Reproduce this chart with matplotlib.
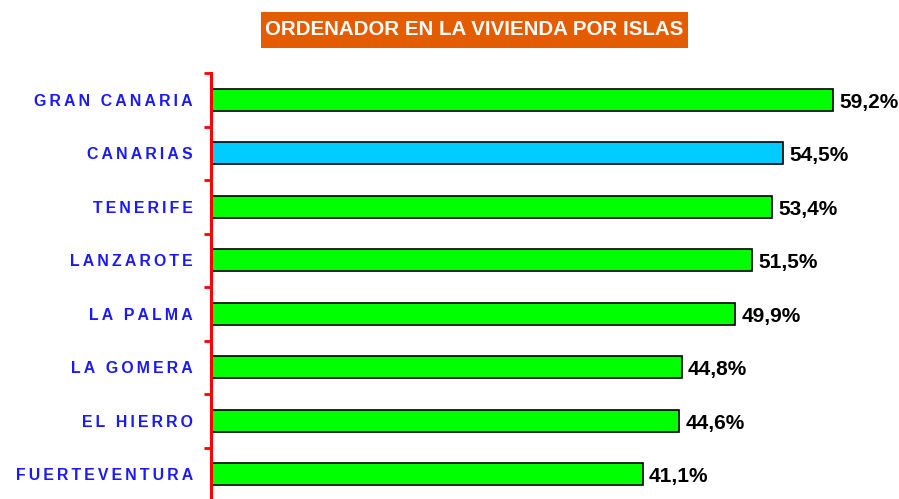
import matplotlib.pyplot as plt
from matplotlib.patches import Rectangle

# data
islands = ['GRAN CANARIA', 'CANARIAS', 'TENERIFE', 'LANZAROTE', 'LA PALMA',
           'LA GOMERA', 'EL HIERRO', 'FUERTEVENTURA']
values = [59.2, 54.5, 53.4, 51.5, 49.9, 44.8, 44.6, 41.1]
colors = ['#00ff00', '#00ccff', '#00ff00', '#00ff00', '#00ff00',
          '#00ff00', '#00ff00', '#00ff00']
title = 'ORDENADOR EN LA VIVIENDA POR ISLAS'

plt.rcParams['font.family'] = ['Liberation Sans', 'DejaVu Sans']

fig = plt.figure(figsize=(8.99, 4.99), dpi=100)
ax = fig.add_axes([211 / 899, -2 / 499, 1 - 211 / 899, 428 / 499])

pos = list(range(len(islands)))
ax.barh(pos, values, height=0.41, color=colors, edgecolor='black', linewidth=1.2)
ax.set_xlim(0, 65.5)
ax.set_ylim(len(islands) - 0.5, -0.5)

# value labels (nudged down a little to sit level with the bar)
for p, v in zip(pos, values):
    ax.text(v + 0.6, p + 0.05, f'{v:.1f}%'.replace('.', ','), va='center', ha='left',
            fontsize=15, fontweight='bold', color='black')

# letter-spaced blue category labels
spaced = ['\u2009'.join(s) for s in islands]
ax.set_yticks(pos)
ax.set_yticklabels(spaced, fontsize=11.4, fontweight='bold', color='#1a1af5')
ax.tick_params(axis='y', which='major', length=0, pad=13)
ax.set_yticks([p - 0.5 for p in range(len(islands) + 1)], minor=True)
ax.tick_params(axis='y', which='minor', length=5, width=2, color='red', direction='out')
ax.set_xticks([])

for s in ['top', 'right', 'bottom']:
    ax.spines[s].set_visible(False)
ax.spines['left'].set_color('red')
ax.spines['left'].set_linewidth(2.2)

# title in orange box
fig.patches.append(Rectangle((261 / 899, 1 - 48 / 499), 427 / 899, 36 / 499,
                             transform=fig.transFigure, facecolor='#e35c00',
                             edgecolor='none'))
fig.text(474 / 899, 1 - 29.5 / 499, title, ha='center', va='center', fontsize=14.8,
         fontweight='bold', color='white')

fig.savefig('out.png', dpi=100)
